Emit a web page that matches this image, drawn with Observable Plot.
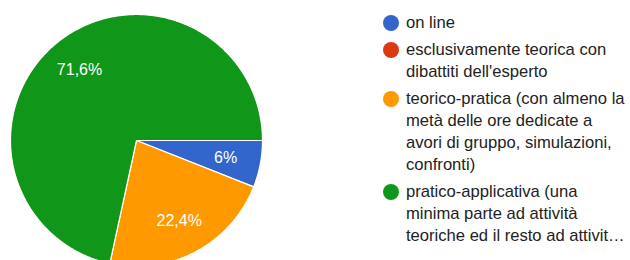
<!DOCTYPE html>
<html>
<head>
<meta charset="utf-8">
<script src="https://cdn.jsdelivr.net/npm/d3@7"></script>
<script src="https://cdn.jsdelivr.net/npm/@observablehq/plot@0.6"></script>
<style>
  html, body { margin: 0; padding: 0; background: #fff; }
  #wrap { position: relative; width: 630px; height: 260px; overflow: hidden; font-family: "Liberation Sans", Arial, sans-serif; }
  #chart { position: absolute; left: 0; top: 0; }
  #legend { position: absolute; left: 383px; top: 12px; font-size: 16.6px; line-height: 22px; color: #222; }
  .item { display: flex; align-items: flex-start; margin-bottom: 5px; }
  .sw { width: 16px; height: 16px; border-radius: 50%; margin-top: 3px; margin-right: 7px; flex: none; }
  .txt { white-space: nowrap; }
</style>
</head>
<body>
<div id="wrap">
  <div id="chart"></div>
  <div id="legend"></div>
</div>
<script>
const categories = [
  "on line",
  "esclusivamente teorica con dibattiti dell'esperto",
  "teorico-pratica (con almeno la metà delle ore dedicate a avori di gruppo, simulazioni, confronti)",
  "pratico-applicativa (una minima parte ad attività teoriche ed il resto ad attività pratiche)"
];
const legendLines = [
  ["on line"],
  ["esclusivamente teorica con", "dibattiti dell'esperto"],
  ["teorico-pratica (con almeno la", "metà delle ore dedicate a", "avori di gruppo, simulazioni,", "confronti)"],
  ["pratico-applicativa (una", "minima parte ad attività", "teoriche ed il resto ad attivit…"]
];
const values = [6, 0, 22.4, 71.6];
const sliceLabels = ["6%", "0%", "22,4%", "71,6%"];
const colors = ["#3366cc", "#dc3912", "#ff9900", "#109618"];

// pie geometry (clockwise, starting at 3 o'clock)
const arcs = d3.pie().sort(null).startAngle(Math.PI / 2).endAngle(Math.PI / 2 + 2 * Math.PI)(values);
const pt = (a, r) => [r * Math.sin(a), r * Math.cos(a)];
const polys = [];
const labelPts = [];
arcs.forEach((arc, i) => {
  if (arc.value <= 0) return;
  const cat = categories[i];
  polys.push({cat, x: 0, y: 0});
  const n = Math.max(2, Math.ceil((arc.endAngle - arc.startAngle) / (Math.PI / 360)));
  for (let k = 0; k <= n; k++) {
    const a = arc.startAngle + (arc.endAngle - arc.startAngle) * k / n;
    const [x, y] = pt(a, 1);
    polys.push({cat, x, y});
  }
  polys.push({cat, x: 0, y: 0});
  const mid = (arc.startAngle + arc.endAngle) / 2;
  const [lx, ly] = pt(mid, 0.72);
  labelPts.push({cat, x: lx, y: ly, label: sliceLabels[i]});
});

const plot = Plot.plot({
  width: 630,
  height: 260,
  margin: 0,
  x: {domain: [-1, 1], range: [10, 262], axis: null},
  y: {domain: [-1, 1], range: [266, 14], axis: null},
  color: {domain: categories, range: colors},
  style: {fontFamily: "'Liberation Sans', Arial, sans-serif", background: "transparent"},
  marks: [
    Plot.line(polys, {x: "x", y: "y", z: "cat", fill: "cat", stroke: "white", strokeWidth: 1.2, curve: "linear-closed"}),
    Plot.text(labelPts, {x: "x", y: "y", text: "label", fill: "white", fontSize: 16})
  ]
});
document.getElementById("chart").append(plot);

const legend = document.getElementById("legend");
categories.forEach((c, i) => {
  const item = document.createElement("div");
  item.className = "item";
  const sw = document.createElement("div");
  sw.className = "sw";
  sw.style.background = colors[i];
  const txt = document.createElement("div");
  txt.className = "txt";
  txt.innerHTML = legendLines[i].map(s => s.replace(/&/g, "&amp;").replace(/</g, "&lt;")).join("<br>");
  item.append(sw, txt);
  legend.append(item);
});
</script>
</body>
</html>
